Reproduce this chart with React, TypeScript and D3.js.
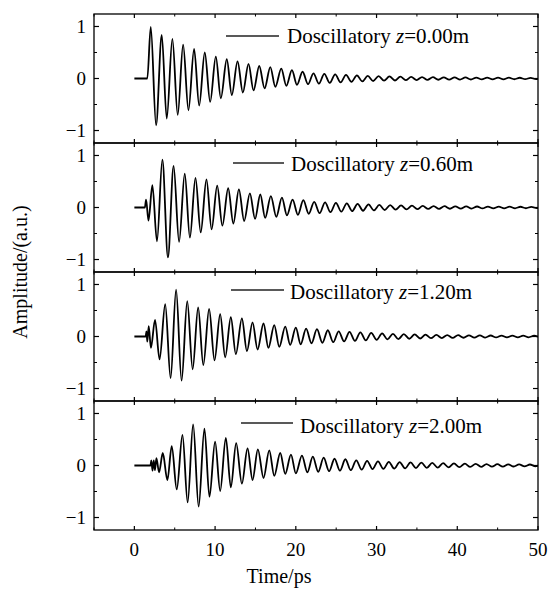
import React from "react";
import * as d3 from "d3";

const WIDTH = 554;
const HEIGHT = 590;

const X_MAJOR = [0, 10, 20, 30, 40, 50];
const X_MINOR = [-5, 5, 15, 25, 35, 45];
const Y_MAJOR = [-1, 0, 1];
const Y_MINOR = [-0.5, 0.5];

const Z_LABELS = ["0.00", "0.60", "1.20", "2.00"];
// time (ps) where the flat line before the pulse ends
const ONSETS = [1.6, 1.3, 1.4, 2.0];
// spacing between extrema in the long tail (ps)
const HALF_PERIOD = 0.6725;

const HEAD_Z000: [number, number][] = [
  [2.03, 0.99], [2.69, -0.9], [3.39, 0.84], [4.01, -0.77], [4.71, 0.76], [5.37, -0.7],
  [6.04, 0.65], [6.7, -0.61], [7.4, 0.57], [8.03, -0.52], [8.72, 0.5], [9.39, -0.45],
  [10.09, 0.42], [10.71, -0.38], [11.45, 0.37], [12.07, -0.32], [12.78, 0.33], [13.44, -0.27],
  [14.14, 0.28], [14.76, -0.23], [15.47, 0.24], [16.13, -0.19], [16.84, 0.22], [17.46, -0.16],
  [18.2, 0.19], [18.82, -0.14], [19.52, 0.16], [20.14, -0.12], [20.84, 0.13],
];
const HEAD_Z060: [number, number][] = [
  [1.45, 0.15], [1.75, -0.25], [2.23, 0.43], [2.8, -0.65], [3.47, 0.92], [4.16, -0.96],
  [4.86, 0.8], [5.54, -0.66], [6.24, 0.65], [6.88, -0.58], [7.57, 0.57], [8.22, -0.48],
  [8.93, 0.54], [9.57, -0.42], [10.26, 0.42], [10.9, -0.35], [11.62, 0.37], [12.26, -0.31],
  [12.95, 0.35], [13.6, -0.26], [14.31, 0.27], [14.95, -0.22], [15.6, 0.25], [16.2, -0.2],
  [16.91, 0.22], [17.58, -0.18], [18.28, 0.19], [18.9, -0.15], [19.6, 0.15], [20.26, -0.14],
  [20.93, 0.14],
];
const HEAD_Z120: [number, number][] = [
  [1.5, 0.1], [1.6, -0.1], [1.78, 0.2], [2.05, -0.22], [2.56, 0.32], [3.12, -0.44],
  [3.82, 0.62], [4.49, -0.8], [5.17, 0.9], [5.85, -0.85], [6.55, 0.68], [7.22, -0.63],
  [7.9, 0.56], [8.54, -0.55], [9.26, 0.53], [9.93, -0.46], [10.63, 0.43], [11.25, -0.4],
  [11.95, 0.37], [12.57, -0.34], [13.32, 0.35], [13.94, -0.28], [14.64, 0.27], [15.26, -0.25],
  [16.0, 0.25], [16.6, -0.22], [17.33, 0.22], [17.95, -0.2], [18.69, 0.19], [19.3, -0.16],
  [20.0, 0.17], [20.6, -0.15],
];
const HEAD_Z200: [number, number][] = [
  [2.1, 0.1], [2.25, -0.1], [2.4, 0.1], [2.55, -0.09], [2.73, 0.14], [3.06, -0.13],
  [3.52, 0.24], [4.09, -0.28], [4.63, 0.37], [5.25, -0.46], [5.96, 0.59], [6.6, -0.71],
  [7.28, 0.79], [7.96, -0.79], [8.68, 0.71], [9.3, -0.6], [10.0, 0.46], [10.63, -0.49],
  [11.33, 0.53], [11.95, -0.42], [12.61, 0.43], [13.32, -0.35], [14.02, 0.33], [14.64, -0.28],
  [15.3, 0.31], [16.0, -0.24], [16.71, 0.29], [17.33, -0.2], [18.07, 0.24], [18.69, -0.16],
  [19.4, 0.21], [20.0, -0.15], [20.76, 0.19],
];

// size of each following extremum in the tail (sign alternates)
const TAIL_Z000 = [
  0.11, 0.1, 0.1, 0.09, 0.085, 0.08, 0.075, 0.07, 0.065, 0.06, 0.055, 0.05, 0.048, 0.045, 0.042,
  0.04, 0.038, 0.035, 0.032, 0.03, 0.03, 0.028, 0.026, 0.025, 0.024, 0.023, 0.022, 0.021, 0.02,
  0.02, 0.019, 0.018, 0.018, 0.017, 0.016, 0.016, 0.015, 0.015, 0.014, 0.014, 0.013, 0.013,
  0.012, 0.012,
];
const TAIL_Z060 = [
  0.12, 0.11, 0.11, 0.1, 0.09, 0.09, 0.08, 0.08, 0.07, 0.07, 0.062, 0.06, 0.055, 0.05, 0.048,
  0.045, 0.042, 0.04, 0.037, 0.035, 0.032, 0.03, 0.028, 0.027, 0.026, 0.025, 0.024, 0.023, 0.022,
  0.021, 0.02, 0.019, 0.018, 0.018, 0.017, 0.016, 0.016, 0.015, 0.015, 0.014, 0.014, 0.013,
  0.013, 0.012,
];
const TAIL_Z120 = [
  0.15, 0.13, 0.14, 0.12, 0.12, 0.11, 0.1, 0.095, 0.09, 0.085, 0.08, 0.075, 0.07, 0.065, 0.06,
  0.055, 0.052, 0.05, 0.046, 0.043, 0.04, 0.038, 0.035, 0.033, 0.03, 0.03, 0.028, 0.027, 0.025,
  0.024, 0.023, 0.022, 0.021, 0.02, 0.019, 0.018, 0.018, 0.017, 0.016, 0.016, 0.015, 0.015,
  0.014, 0.014,
];
const TAIL_Z200 = [
  0.13, 0.17, 0.12, 0.15, 0.11, 0.13, 0.1, 0.12, 0.09, 0.1, 0.08, 0.09, 0.07, 0.08, 0.065,
  0.07, 0.06, 0.065, 0.055, 0.06, 0.05, 0.055, 0.045, 0.05, 0.04, 0.045, 0.036, 0.04, 0.032,
  0.036, 0.028, 0.032, 0.025, 0.028, 0.023, 0.025, 0.021, 0.023, 0.019, 0.021, 0.017, 0.019,
  0.016, 0.017,
];

const HEADS = [HEAD_Z000, HEAD_Z060, HEAD_Z120, HEAD_Z200];
const TAILS = [TAIL_Z000, TAIL_Z060, TAIL_Z120, TAIL_Z200];

// legend placement per panel (px, relative to panel top)
const LEGEND_LAYOUT = [
  { x0: 226, x1: 279, lineDy: 22, textX: 287, baseDy: 29 },
  { x0: 233, x1: 284, lineDy: 20, textX: 291, baseDy: 28 },
  { x0: 231, x1: 284, lineDy: 18, textX: 290, baseDy: 27 },
  { x0: 241, x1: 293, lineDy: 22, textX: 300, baseDy: 32 },
];

const FONT = "'Liberation Serif', 'Times New Roman', serif";

const margin = { left: 94, right: 16, top: 14 };
const PANEL_H = 129;
const plotRight = WIDTH - margin.right;

function buildPoints(i: number): [number, number][] {
  const head = HEADS[i];
  const pts: [number, number][] = [[0, 0], [ONSETS[i], 0], ...head];
  let [t, v] = head[head.length - 1];
  let sign = v > 0 ? -1 : 1;
  for (const a of TAILS[i]) {
    t += HALF_PERIOD;
    pts.push([t, sign * a]);
    sign = -sign;
  }
  return pts;
}

function Panel({ index }: { index: number }) {
  const top = margin.top + index * PANEL_H;
  const bottom = top + PANEL_H;
  const x = d3.scaleLinear().domain([-5, 50]).range([margin.left, plotRight]);
  const y = d3.scaleLinear().domain([-1.24, 1.24]).range([bottom, top]);
  const line = d3
    .line<[number, number]>()
    .x((d) => x(d[0]))
    .y((d) => y(d[1]))
    .curve(d3.curveMonotoneX);
  const lg = LEGEND_LAYOUT[index];
  const clipId = "clip" + index;

  return (
    <g>
      <clipPath id={clipId}>
        <rect x={margin.left} y={top} width={plotRight - margin.left} height={PANEL_H} />
      </clipPath>
      <path
        d={line(buildPoints(index)) || ""}
        fill="none"
        stroke="#000"
        strokeWidth={1.8}
        strokeLinejoin="round"
        clipPath={`url(#${clipId})`}
      />
      {X_MAJOR.map((t) => (
        <g key={"xM" + t}>
          <line x1={x(t)} x2={x(t)} y1={bottom} y2={bottom - 4} stroke="#000" strokeWidth={1.2} />
          <line x1={x(t)} x2={x(t)} y1={top} y2={top + 4} stroke="#000" strokeWidth={1.2} />
        </g>
      ))}
      {X_MINOR.map((t) => (
        <g key={"xm" + t}>
          <line x1={x(t)} x2={x(t)} y1={bottom} y2={bottom - 2.5} stroke="#000" strokeWidth={1} />
          <line x1={x(t)} x2={x(t)} y1={top} y2={top + 2.5} stroke="#000" strokeWidth={1} />
        </g>
      ))}
      {Y_MAJOR.map((v) => (
        <g key={"yM" + v}>
          <line x1={margin.left} x2={margin.left + 5} y1={y(v)} y2={y(v)} stroke="#000" strokeWidth={1.2} />
          <line x1={plotRight} x2={plotRight - 5} y1={y(v)} y2={y(v)} stroke="#000" strokeWidth={1.2} />
          <text
            x={margin.left - 8}
            y={y(v)}
            dy="0.35em"
            textAnchor="end"
            fontSize={19}
            fontFamily={FONT}
          >
            {v < 0 ? "\u2212" + Math.abs(v) : String(v)}
          </text>
        </g>
      ))}
      {Y_MINOR.map((v) => (
        <g key={"ym" + v}>
          <line x1={margin.left} x2={margin.left + 3} y1={y(v)} y2={y(v)} stroke="#000" strokeWidth={1} />
          <line x1={plotRight} x2={plotRight - 3} y1={y(v)} y2={y(v)} stroke="#000" strokeWidth={1} />
        </g>
      ))}
      <rect
        x={margin.left}
        y={top}
        width={plotRight - margin.left}
        height={PANEL_H}
        fill="none"
        stroke="#000"
        strokeWidth={1.3}
      />
      <line x1={lg.x0} x2={lg.x1} y1={top + lg.lineDy} y2={top + lg.lineDy} stroke="#222" strokeWidth={1.5} />
      <text x={lg.textX} y={top + lg.baseDy} fontSize={21} fontFamily={FONT}>
        Doscillatory <tspan fontStyle="italic">z</tspan>={Z_LABELS[index]}m
      </text>
    </g>
  );
}

export default function App() {
  const lastBottom = margin.top + 4 * PANEL_H;
  const x = d3.scaleLinear().domain([-5, 50]).range([margin.left, plotRight]);
  return (
    <svg
      width={WIDTH}
      height={HEIGHT}
      style={{ position: "absolute", left: 0, top: 0, background: "#fff" }}
    >
      {[0, 1, 2, 3].map((i) => (
        <Panel key={i} index={i} />
      ))}
      {X_MAJOR.map((t) => (
        <text key={t} x={x(t)} y={lastBottom + 26} textAnchor="middle" fontSize={19} fontFamily={FONT}>
          {t}
        </text>
      ))}
      <text x={279} y={583} textAnchor="middle" fontSize={20} fontFamily={FONT}>
        Time/ps
      </text>
      <text
        transform={`translate(27,${margin.top + 2 * PANEL_H}) rotate(-90)`}
        textAnchor="middle"
        fontSize={20}
        fontFamily={FONT}
      >
        Amplitude/(a.u.)
      </text>
    </svg>
  );
}
